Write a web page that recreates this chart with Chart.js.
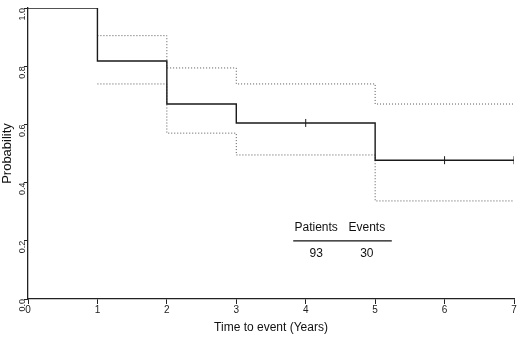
<!DOCTYPE html>
<html>
<head>
<meta charset="utf-8">
<script src="https://cdn.jsdelivr.net/npm/chart.js@4/dist/chart.umd.min.js"></script>
<style>
  html, body { margin: 0; padding: 0; background: #fff; }
  #km { display: block; }
</style>
</head>
<body>
<canvas id="km" width="520" height="344"></canvas>
<script>
// Kaplan-Meier estimate with 95% confidence band
const times = [0, 1, 2, 3, 5, 7];
const survival = [1.0, 0.818, 0.67, 0.605, 0.477, 0.477];
const ciTimes = [1, 2, 3, 5, 7];
const upperCI = [0.905, 0.794, 0.739, 0.67, 0.67];
const lowerCI = [0.739, 0.57, 0.495, 0.337, 0.337];
const censorTimes = [4, 6, 7];
const censorValues = [0.605, 0.477, 0.477];
const xTicks = [0, 1, 2, 3, 4, 5, 6, 7];
const yTicks = [0.0, 0.2, 0.4, 0.6, 0.8, 1.0];
const tableHeads = ['Patients', 'Events'];
const tableValues = ['93', '30'];

const toPoints = (xs, ys) => xs.map((x, i) => ({ x: x, y: ys[i] }));

// Draws the small patients / events table inside the plot
const tablePlugin = {
  id: 'tablePlugin',
  afterDatasetsDraw(chart) {
    const { ctx, scales: { x, y } } = chart;
    ctx.save();
    ctx.fillStyle = '#111';
    ctx.font = '12px "Liberation Sans", Arial, sans-serif';
    ctx.textAlign = 'center';
    ctx.textBaseline = 'middle';
    const cols = [4.15, 4.88];
    cols.forEach((c, i) => {
      ctx.fillText(tableHeads[i], x.getPixelForValue(c), y.getPixelForValue(0.244));
      ctx.fillText(tableValues[i], x.getPixelForValue(c), y.getPixelForValue(0.155));
    });
    ctx.strokeStyle = '#111';
    ctx.lineWidth = 1.3;
    ctx.beginPath();
    ctx.moveTo(x.getPixelForValue(3.82), y.getPixelForValue(0.2));
    ctx.lineTo(x.getPixelForValue(5.24), y.getPixelForValue(0.2));
    ctx.stroke();
    ctx.restore();
  }
};

const ctx = document.getElementById('km');

const kmChart = new Chart(ctx, {
  type: 'line',
  data: {
    datasets: [
      {
        label: 'Survival',
        data: toPoints(times, survival),
        stepped: 'before',
        borderColor: '#1a1a1a',
        borderWidth: 1.4,
        pointRadius: 0,
        fill: false,
      },
      {
        label: 'Upper 95% CI',
        data: toPoints(ciTimes, upperCI),
        stepped: 'before',
        borderColor: '#555',
        borderWidth: 1,
        borderDash: [1, 2],
        pointRadius: 0,
        fill: false,
      },
      {
        label: 'Lower 95% CI',
        data: toPoints(ciTimes, lowerCI),
        stepped: 'before',
        borderColor: '#555',
        borderWidth: 1,
        borderDash: [1, 2],
        pointRadius: 0,
        fill: false,
      },
      {
        label: 'Censored',
        data: toPoints(censorTimes, censorValues),
        showLine: false,
        pointStyle: 'line',
        rotation: 90,
        radius: 4,
        borderColor: '#1a1a1a',
        borderWidth: 1,
      },
    ]
  },
  options: {
    responsive: false,
    animation: false,
    devicePixelRatio: 1,
    layout: { padding: { top: 8, right: 6, left: 0, bottom: 9 } },
    plugins: {
      legend: { display: false },
      tooltip: { enabled: false },
    },
    scales: {
      x: {
        type: 'linear',
        min: 0,
        max: 7,
        afterBuildTicks: (scale) => { scale.ticks = xTicks.map(v => ({ value: v })); },
        afterFit: (scale) => { scale.height = 36; },
        border: { color: '#222', width: 1.3 },
        grid: { drawOnChartArea: false, drawTicks: true, tickLength: 5, color: '#222' },
        ticks: {
          color: '#222',
          font: { size: 10, family: '"Liberation Sans", Arial, sans-serif' },
          padding: 0,
          maxRotation: 0,
        },
        title: {
          display: true,
          text: 'Time to event (Years)',
          color: '#111',
          font: { size: 12, family: '"Liberation Sans", Arial, sans-serif' },
          padding: { top: 8, bottom: 0 },
        },
      },
      y: {
        min: 0,
        max: 1,
        afterBuildTicks: (scale) => { scale.ticks = yTicks.map(v => ({ value: v })); },
        afterFit: (scale) => { scale.width = 28; },
        border: { color: '#222', width: 1.3 },
        grid: { drawOnChartArea: false, drawTicks: true, tickLength: 4, color: '#222' },
        ticks: {
          color: '#222',
          font: { size: 9, family: '"Liberation Sans", Arial, sans-serif' },
          padding: 1,
          minRotation: 90,
          maxRotation: 90,
          callback: (v) => v.toFixed(1),
        },
        title: {
          display: true,
          text: 'Probability',
          color: '#111',
          font: { size: 13, family: '"Liberation Sans", Arial, sans-serif' },
          padding: { top: 0, bottom: 2 },
        },
      },
    },
  },
  plugins: [tablePlugin],
});
</script>
</body>
</html>
